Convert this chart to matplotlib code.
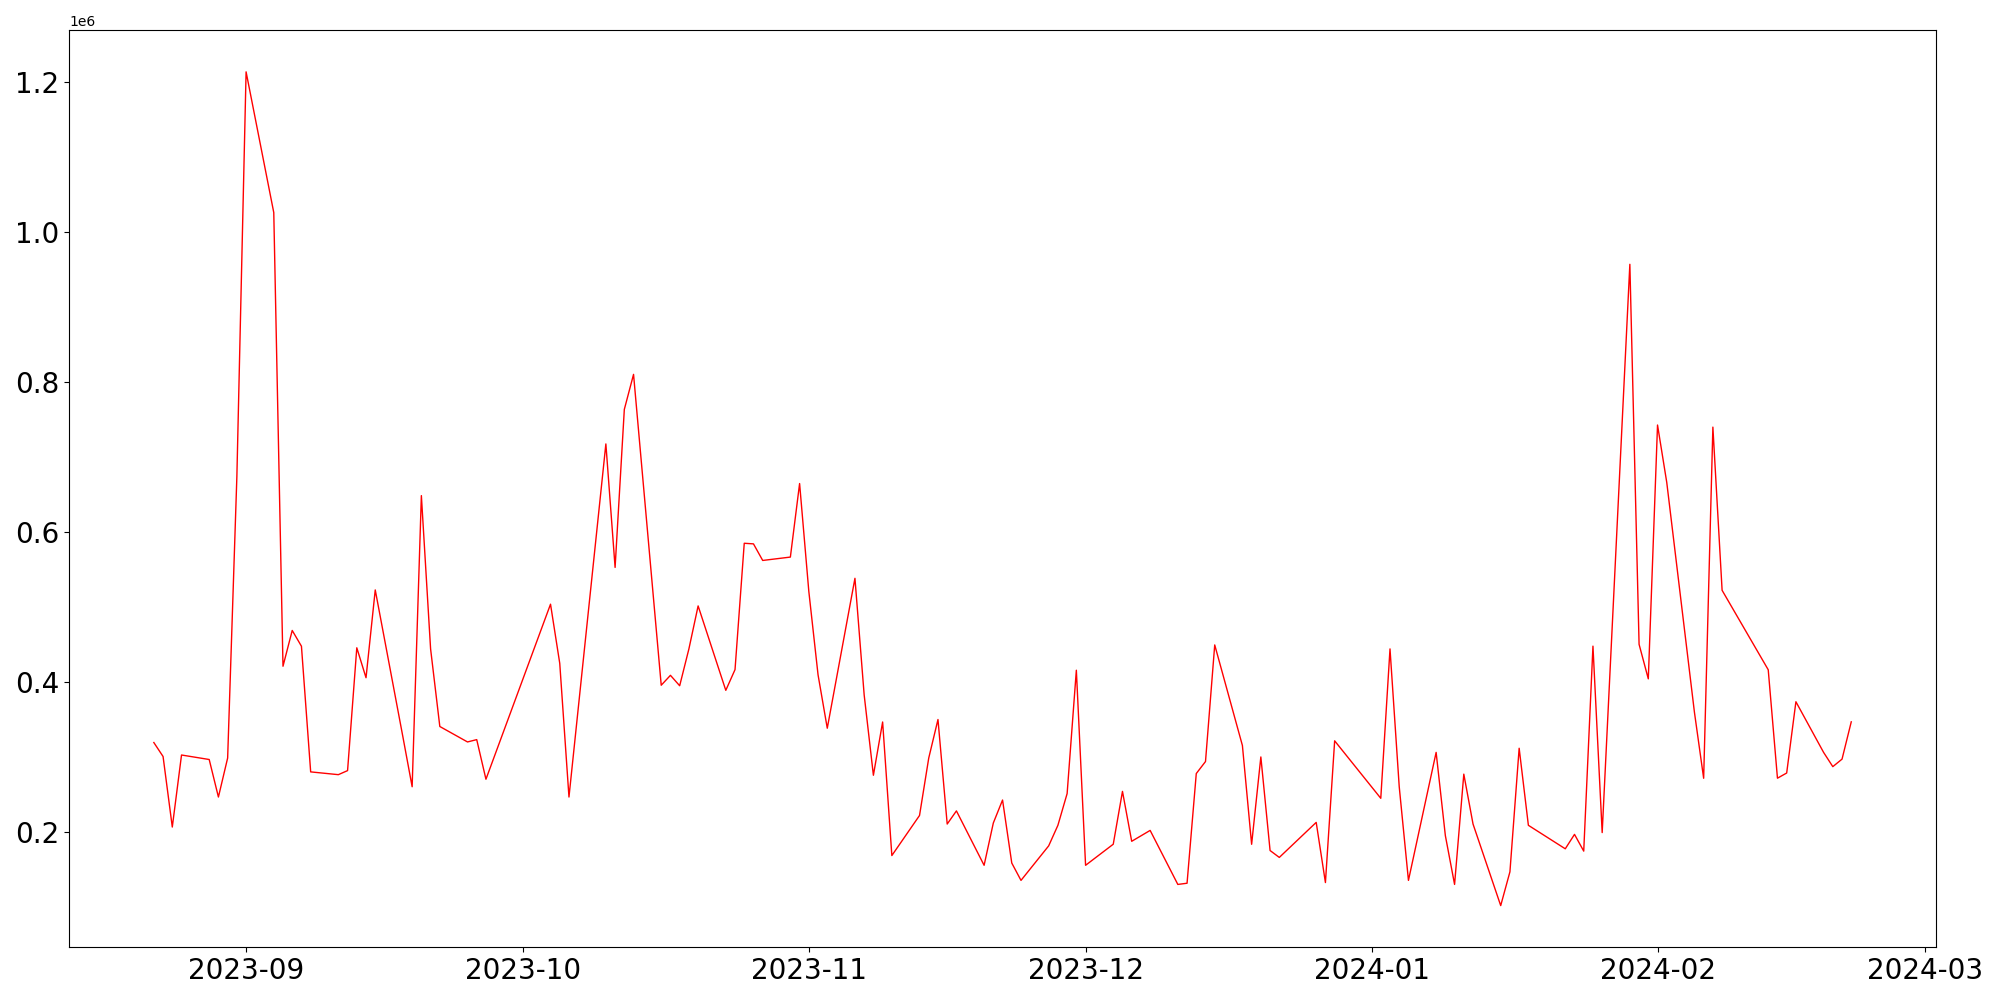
import matplotlib
matplotlib.use("Agg")
import matplotlib.pyplot as plt
import pandas as pd

# daily values (weekdays, some gaps)
dates = [
    "2023-08-22", "2023-08-23", "2023-08-24", "2023-08-25", "2023-08-28",
    "2023-08-29", "2023-08-30", "2023-08-31", "2023-09-01", "2023-09-04",
    "2023-09-05", "2023-09-06", "2023-09-07", "2023-09-08", "2023-09-11",
    "2023-09-12", "2023-09-13", "2023-09-14", "2023-09-15", "2023-09-18",
    "2023-09-19", "2023-09-20", "2023-09-21", "2023-09-22", "2023-09-25",
    "2023-09-26", "2023-09-27", "2023-10-04", "2023-10-05", "2023-10-06",
    "2023-10-10", "2023-10-11", "2023-10-12", "2023-10-13", "2023-10-16",
    "2023-10-17", "2023-10-18", "2023-10-19", "2023-10-20", "2023-10-23",
    "2023-10-24", "2023-10-25", "2023-10-26", "2023-10-27", "2023-10-30",
    "2023-10-31", "2023-11-01", "2023-11-02", "2023-11-03", "2023-11-06",
    "2023-11-07", "2023-11-08", "2023-11-09", "2023-11-10", "2023-11-13",
    "2023-11-14", "2023-11-15", "2023-11-16", "2023-11-17", "2023-11-20",
    "2023-11-21", "2023-11-22", "2023-11-23", "2023-11-24", "2023-11-27",
    "2023-11-28", "2023-11-29", "2023-11-30", "2023-12-01", "2023-12-04",
    "2023-12-05", "2023-12-06", "2023-12-08", "2023-12-11", "2023-12-12",
    "2023-12-13", "2023-12-14", "2023-12-15", "2023-12-18", "2023-12-19",
    "2023-12-20", "2023-12-21", "2023-12-22", "2023-12-26", "2023-12-27",
    "2023-12-28", "2024-01-02", "2024-01-03", "2024-01-04", "2024-01-05",
    "2024-01-08", "2024-01-09", "2024-01-10", "2024-01-11", "2024-01-12",
    "2024-01-15", "2024-01-16", "2024-01-17", "2024-01-18", "2024-01-22",
    "2024-01-23", "2024-01-24", "2024-01-25", "2024-01-26", "2024-01-29",
    "2024-01-30", "2024-01-31", "2024-02-01", "2024-02-02", "2024-02-05",
    "2024-02-06", "2024-02-07", "2024-02-08", "2024-02-13", "2024-02-14",
    "2024-02-15", "2024-02-16", "2024-02-19", "2024-02-20", "2024-02-21",
    "2024-02-22",
]

values = [
    319600, 301000, 207000, 303000, 297000,
    247000, 299000, 674000, 1213500, 1026000,
    421300, 469000, 448000, 280500, 276800,
    282200, 445900, 406000, 523000, 327000,
    260700, 648700, 444400, 341000, 320400,
    323500, 270700, 504000, 425200, 247000,
    717600, 553000, 763600, 810300, 396000,
    409200, 395300, 444400, 501700, 389200,
    416800, 585200, 584400, 562300, 566800,
    664800, 521000, 409900, 338700, 538500,
    383000, 276000, 347000, 169000, 222400,
    299000, 350300, 211000, 228500, 156000,
    212400, 243000, 159000, 135900, 181900,
    209300, 251600, 416000, 156000, 184100,
    254500, 188000, 202500, 130500, 132100,
    278300, 294300, 449700, 315700, 184000,
    300400, 175700, 166500, 213200, 133000,
    321900, 245300, 444400, 260700, 135900,
    306500, 195600, 130500, 277500, 211000,
    102300, 147300, 312000, 209300, 178000,
    197200, 174900, 448100, 199600, 957000,
    450500, 404500, 742800, 666300, 360000,
    272000, 740000, 522500, 416600, 272100,
    279000, 374000, 306500, 287500, 297500,
    347200,
]

series = pd.Series(values, index=pd.to_datetime(dates))

plt.figure(figsize=(20, 10), dpi=100)
plt.plot(series.index, series.values, color="red", linewidth=1)
plt.xticks(fontsize=20)
plt.yticks(fontsize=20)
plt.tight_layout()
plt.savefig("out.png")
